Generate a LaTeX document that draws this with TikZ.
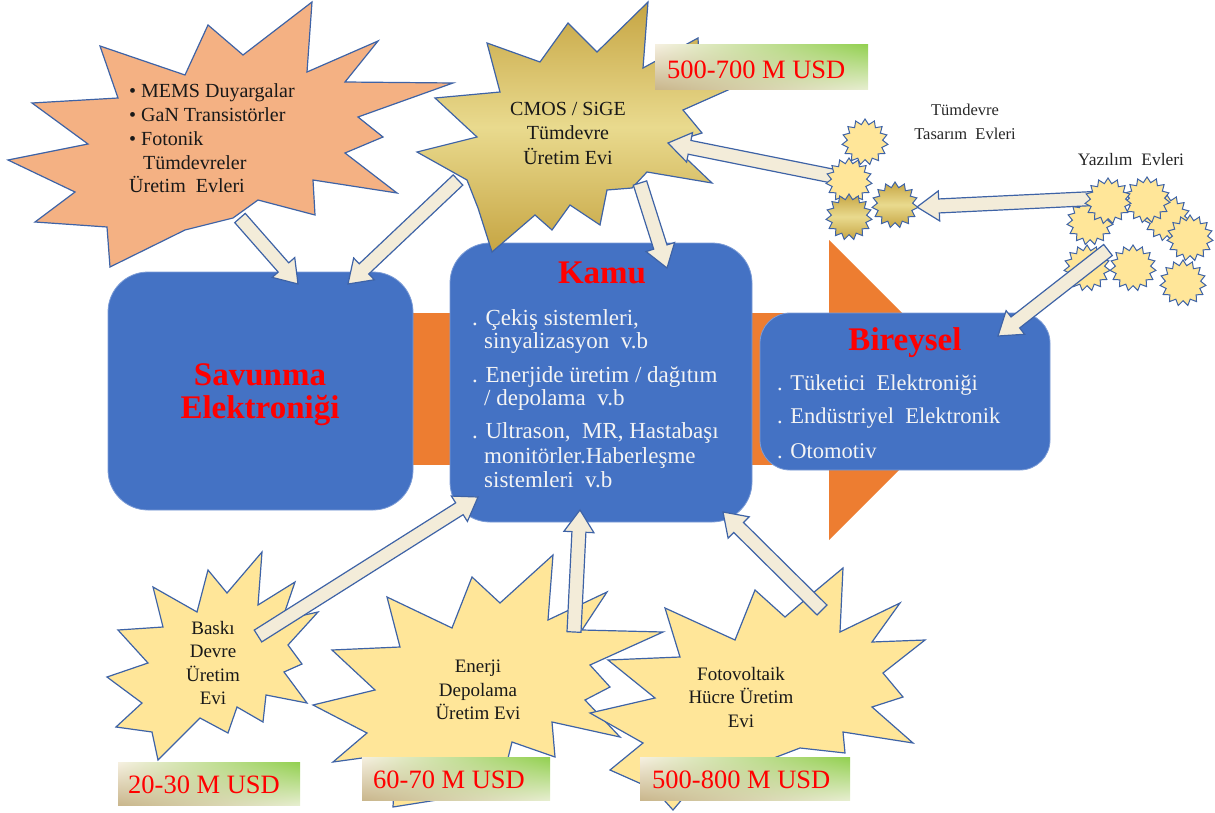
\documentclass[tikz,border=0pt]{standalone}
\usepackage{fontspec}
\setmainfont{Liberation Serif}
\usetikzlibrary{calc,shapes.geometric,shadings}
\definecolor{boxblue}{HTML}{4472C4}
\definecolor{orng}{HTML}{ED7D31}
\definecolor{edge}{HTML}{3E63A6}
\definecolor{starY}{HTML}{FFE699}
\definecolor{starO}{HTML}{F4B183}
\definecolor{goldA}{HTML}{C6A543}
\definecolor{goldB}{HTML}{E9DA8E}
\definecolor{cream}{HTML}{F3ECD9}
\definecolor{tanc}{HTML}{C9B68C}
\definecolor{lgreen}{HTML}{92D050}
\definecolor{txtw}{HTML}{F4F4F4}
\definecolor{redt}{HTML}{FF0000}
\newcommand\barrow[2]{%
  \coordinate (bE) at ($(#2)!22pt!(#1)$);
  \draw[bar] ($(#1)!7pt!90:(#2)$) -- ($(bE)!7pt!90:(#2)$) -- ($(bE)!15pt!90:(#2)$)
    -- (#2) -- ($(bE)!15pt!-90:(#2)$) -- ($(bE)!7pt!-90:(#2)$) -- ($(#1)!7pt!-90:(#2)$) -- cycle;}
\tikzset{
  bluebox/.style={fill=boxblue, draw=boxblue!70!white, line width=0.8pt, rounded corners=40pt, inner sep=0pt},
  burst/.style={draw=edge, line width=1.2pt, line join=miter},
  yburst/.style={burst, fill=starY},
  oburst/.style={burst, fill=starO},
  gburst/.style={burst, top color=goldA, bottom color=goldA, middle color=goldB},
  ministar/.style={star, star points=15, star point ratio=1.3, minimum size=46pt, inner sep=0pt, draw=edge, line width=1pt},
  ministarY/.style={ministar, fill=starY},
  ministarG/.style={ministar, top color=goldA, bottom color=goldA, middle color=goldB},
  bar/.style={draw=edge, line width=1.2pt, fill=cream, line join=miter},
  money/.style={inner sep=0pt, lower left=tanc, upper right=lgreen, upper left=cream!80!white, lower right=cream!70!lgreen!60!white},
  moneytxt/.style={anchor=base west, inner sep=0pt, text=redt, font=\fontsize{26.5}{30}\selectfont},
  ttl/.style={anchor=base, inner sep=0pt, text=redt, font=\fontsize{33}{36}\selectfont\bfseries},
  body/.style={anchor=base west, inner sep=0pt, text=txtw, font=\fontsize{23}{26}\selectfont},
  bodyb/.style={body, font=\fontsize{22.5}{26}\selectfont},
  memstxt/.style={anchor=base west, inner sep=0pt, font=\fontsize{20}{23}\selectfont, text=black!90},
  startxt/.style={inner sep=0pt, text=black!90, font=\fontsize{19}{23.5}\selectfont, align=center},
  plain/.style={anchor=base, inner sep=0pt, text=black!85, font=\fontsize{16.5}{20}\selectfont},
}
\begin{document}
\begin{tikzpicture}[x=1pt,y=-1pt]
\useasboundingbox (0,0) rectangle (1215,813);
% big orange arrow behind the boxes
\fill[orng] (400,313) rectangle (830,465);
\fill[orng] (829,240) -- (979,390) -- (829,540) -- cycle;
% blue boxes
\node[bluebox, minimum width=305pt, minimum height=238pt] (sav) at (260.5,391) {};
\node[bluebox, minimum width=302pt, minimum height=279pt] (kamu) at (601,382.5) {};
\node[bluebox, rounded corners=30pt, minimum width=290pt, minimum height=157pt] (bir) at (905,391.5) {};
% box texts
\node[ttl] (savT1) at (260,385) {Savunma};
\node[ttl] (savT2) at (260,418) {Elektroniği};
\node[ttl] (kamuT) at (602,283) {Kamu};
\node[body] (k1) at (472,325) {. Çekiş sistemleri,};
\node[body] (k2) at (484,348) {sinyalizasyon~ v.b};
\node[body] (k3) at (472,382) {. Enerjide üretim / dağıtım};
\node[body] (k4) at (484,405) {/ depolama~ v.b};
\node[body] (k5) at (472,438) {. Ultrason,~ MR, Hastabaşı};
\node[body] (k6) at (484,463) {monitörler.Haberleşme};
\node[body] (k7) at (484,487) {sistemleri~ v.b};
\node[ttl] (birT) at (905,350) {Bireysel};
\node[bodyb] (b1) at (777,390) {. Tüketici~ Elektroniği};
\node[bodyb] (b2) at (777,423) {. Endüstriyel~ Elektronik};
\node[bodyb] (b3) at (777,458) {. Otomotiv};
% orange starburst
\draw[oburst] plot coordinates {(312,2) (307,72) (378,41) (345,82) (453,83) (358,117) (383,137) (345,153) (397,193) (313,180) (315,215) (258,200) (233,218) (185,230) (110,267) (107,227) (35,222) (75,192) (8,160) (88,144) (32,103) (118,98) (100,46) (185,75) (208,25) (243,55)} -- cycle;
\node[memstxt] (mm1) at (129,98) {\textbullet\ MEMS Duyargalar};
\node[memstxt] (mm2) at (129,122) {\textbullet\ GaN Transistörler};
\node[memstxt] (mm3) at (129,146) {\textbullet\ Fotonik};
\node[memstxt] (mm4) at (143,170) {Tümdevreler};
\node[memstxt] (mm5) at (129,193) {Üretim~ Evleri};
% gold starburst
\draw[gburst] plot coordinates {(648,2) (643,68) (698,38) (700,80) (728,90) (683,110) (702,133) (670,143) (712,183) (647,172) (632,188) (607,190) (600,225) (570,205) (552,230) (535,215) (492,252) (478,208) (467,180) (417,152) (477,137) (435,98) (500,92) (487,43) (540,62) (568,23) (597,52)} -- cycle;
\node[startxt, font=\fontsize{20}{24.5}\selectfont] (cmos) at (568,133) {CMOS / SiGE\\Tümdevre\\Üretim Evi};
% bottom starbursts
\draw[yburst] plot coordinates {(262,552) (258,605) (295,582) (282,620) (318,612) (288,645) (302,664) (284,672) (307,703) (266,695) (263,722) (237,707) (228,733) (200,718) (158,760) (152,732) (116,727) (142,703) (107,677) (148,663) (118,630) (163,627) (153,587) (197,612) (208,570) (227,593)} -- cycle;
\node[startxt] (bas) at (213,663) {Baskı\\Devre\\Üretim\\Evi};
\draw[yburst] plot coordinates {(553,555) (548,620) (607,592) (582,630) (663,632) (590,665) (610,687) (585,700) (620,737) (552,722) (555,757) (512,742) (500,790) (393,807) (395,770) (362,758) (333,762) (367,733) (313,705) (375,690) (332,650) (400,647) (387,597) (452,628) (472,577) (500,603)} -- cycle;
\draw[yburst] plot coordinates {(843,568) (840,632) (900,603) (872,642) (925,640) (883,673) (903,697) (872,707) (913,743) (843,732) (845,753) (800,748) (690,790) (673,810) (655,790) (610,770) (643,743) (590,713) (655,698) (608,660) (680,657) (665,608) (735,640) (755,590) (785,617) (813,593)} -- cycle;
\node[startxt] (ene) at (478,690) {Enerji\\Depolama\\Üretim Evi};
\node[startxt] (foto) at (741,697) {Fotovoltaik\\Hücre Üretim\\Evi};
% money labels
\node[money, anchor=north west, minimum width=213pt, minimum height=45pt] (m1) at (655,44) {};
\node[moneytxt] (m1t) at (667,79) {500-700 M USD};
\node[money, anchor=north west, minimum width=182pt, minimum height=43pt] (m2) at (118,762) {};
\node[moneytxt] (m2t) at (128,793) {20-30 M USD};
\node[money, anchor=north west, minimum width=188pt, minimum height=43pt] (m3) at (362,757) {};
\node[moneytxt] (m3t) at (373,788) {60-70 M USD};
\node[money, anchor=north west, minimum width=210pt, minimum height=43pt] (m4) at (640,757) {};
\node[moneytxt] (m4t) at (652,788) {500-800 M USD};
% small star clusters
\node[ministarY] (t1) at (865,142) {};
\node[ministarY] (y2) at (1090,222) {};
\node[ministarY] (y3) at (1167,218) {};
\node[ministarY] (y4) at (1190,238) {};
\node[ministarY] (y5) at (1147,200) {};
\node[ministarY] (y6) at (1087,268) {};
\node[ministarY] (y7) at (1133,268) {};
\node[ministarY] (y8) at (1183,283) {};
\node[plain] (tdt1) at (965,116) {Tümdevre};
\node[plain] (tdt2) at (965,140) {Tasarım~ Evleri};
\node[plain, font=\fontsize{17.5}{20}\selectfont] (yzt) at (1131,166) {Yazılım~ Evleri};
% connector end points
\coordinate (a1s) at (240,218); \coordinate (a1e) at (298,284);
\coordinate (a2s) at (458,180); \coordinate (a2e) at (348,284);
\coordinate (a3s) at (640,183); \coordinate (a3e) at (667,268);
\coordinate (a4s) at (842,178); \coordinate (a4e) at (668,143);
\coordinate (a5s) at (1105,198); \coordinate (a5e) at (917,207);
\coordinate (a6s) at (1108,250); \coordinate (a6e) at (998,336);
\coordinate (a7s) at (258,636); \coordinate (a7e) at (478,497);
\coordinate (a8s) at (574,632); \coordinate (a8e) at (580,510);
\coordinate (a9s) at (822,610); \coordinate (a9e) at (723,512);
\barrow{a1s}{a1e}
\barrow{a2s}{a2e}
\barrow{a3s}{a3e}
\barrow{a4s}{a4e}
\barrow{a5s}{a5e}
\barrow{a6s}{a6e}
\barrow{a7s}{a7e}
\barrow{a8s}{a8e}
\barrow{a9s}{a9e}
% stars in front of connector tails
\node[ministarY] (t2) at (849,181) {};
\node[ministarG] (t3) at (849,217) {};
\node[ministarG] (t4) at (895,205) {};
\node[ministarY] (y1) at (1108,201) {};
\end{tikzpicture}
\end{document}
